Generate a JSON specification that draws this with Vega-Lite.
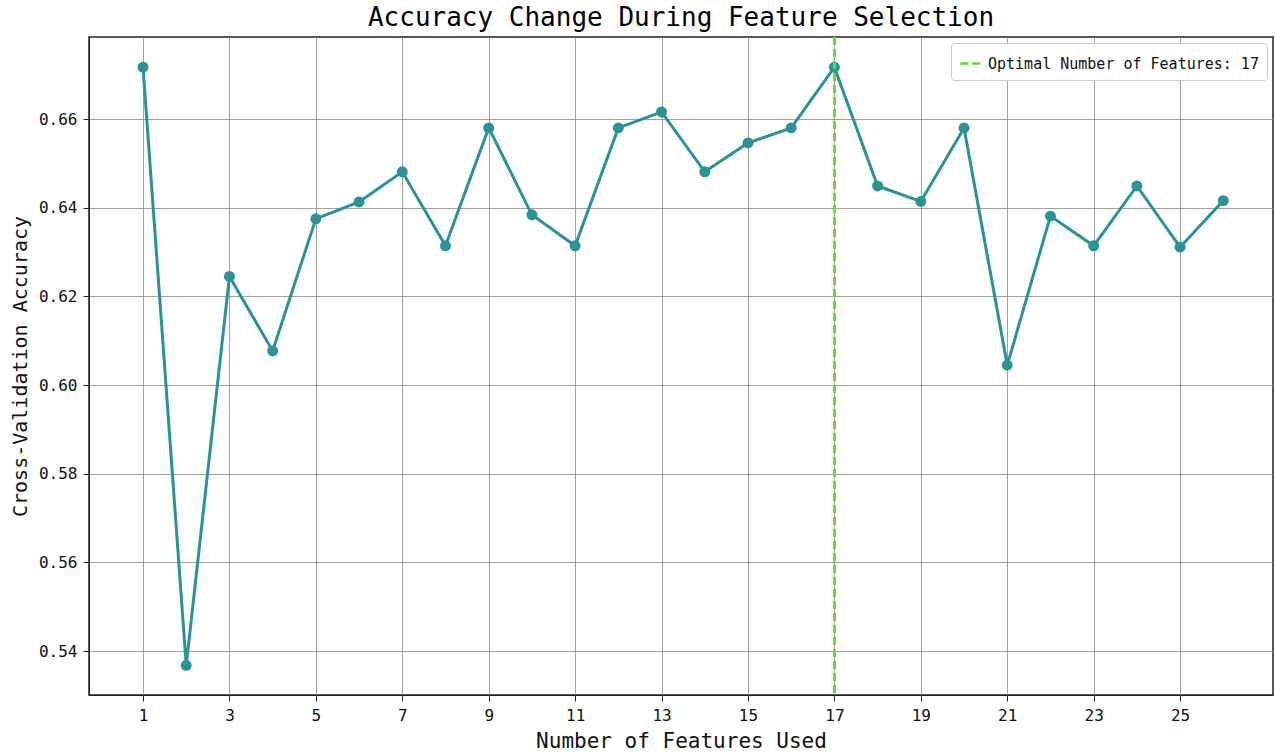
{
  "$schema": "https://vega.github.io/schema/vega-lite/v6.json",
  "width": 1184,
  "height": 658,
  "autosize": {"type": "none"},
  "padding": {"left": 89, "top": 37, "right": 2, "bottom": 59},
  "background": "white",
  "title": {"text": "Accuracy Change During Feature Selection", "font": "DejaVu Sans Mono", "fontSize": 26, "fontWeight": "normal", "color": "#000000", "offset": 5, "anchor": "middle"},
  "config": {
    "view": {"stroke": "#222222", "strokeWidth": 1.5},
    "axis": {"labelFont": "DejaVu Sans Mono", "titleFont": "DejaVu Sans Mono", "labelColor": "#111", "titleColor": "#111", "titleFontWeight": "normal", "domainColor": "#222", "tickColor": "#222", "gridColor": "#8a8a80", "gridOpacity": 0.8, "gridWidth": 1}
  },
  "data": {"values": [
    {"n": 1, "acc": 0.6717}, {"n": 2, "acc": 0.5368}, {"n": 3, "acc": 0.6245}, {"n": 4, "acc": 0.6077},
    {"n": 5, "acc": 0.6375}, {"n": 6, "acc": 0.6413}, {"n": 7, "acc": 0.6481}, {"n": 8, "acc": 0.6314},
    {"n": 9, "acc": 0.6580}, {"n": 10, "acc": 0.6384}, {"n": 11, "acc": 0.6314}, {"n": 12, "acc": 0.6580},
    {"n": 13, "acc": 0.6616}, {"n": 14, "acc": 0.6481}, {"n": 15, "acc": 0.6546}, {"n": 16, "acc": 0.6580},
    {"n": 17, "acc": 0.6717}, {"n": 18, "acc": 0.6449}, {"n": 19, "acc": 0.6414}, {"n": 20, "acc": 0.6580},
    {"n": 21, "acc": 0.6045}, {"n": 22, "acc": 0.6381}, {"n": 23, "acc": 0.6314}, {"n": 24, "acc": 0.6449},
    {"n": 25, "acc": 0.6311}, {"n": 26, "acc": 0.6416}
  ]},
  "layer": [
    {
      "mark": {"type": "line", "color": "#2a9393", "strokeWidth": 3},
      "encoding": {
        "x": {"field": "n", "type": "quantitative", "scale": {"domain": [-0.25, 27.15], "nice": false, "zero": false},
              "axis": {"values": [1,3,5,7,9,11,13,15,17,19,21,23,25], "title": "Number of Features Used", "titleFontSize": 21, "labelFontSize": 16, "titlePadding": 7, "labelPadding": 6, "tickSize": 6, "grid": true}},
        "y": {"field": "acc", "type": "quantitative", "scale": {"domain": [0.5301, 0.6785], "nice": false, "zero": false},
              "axis": {"values": [0.54, 0.56, 0.58, 0.60, 0.62, 0.64, 0.66], "format": ".2f", "title": "Cross-Validation Accuracy", "titleFontSize": 20, "labelFontSize": 16, "titlePadding": 8, "labelPadding": 6, "tickSize": 6, "grid": true}}
      }
    },
    {
      "mark": {"type": "point", "filled": true, "color": "#2a9393", "size": 120, "opacity": 1},
      "encoding": {
        "x": {"field": "n", "type": "quantitative"},
        "y": {"field": "acc", "type": "quantitative"}
      }
    },
    {
      "mark": {"type": "rule", "strokeDash": [8, 4], "strokeWidth": 2},
      "encoding": {
        "x": {"datum": 17, "type": "quantitative"},
        "color": {"datum": "Optimal Number of Features: 17", "type": "nominal", "scale": {"range": ["#66dd33"]},
                  "legend": {"title": null, "orient": "top-right", "offset": 6, "labelFont": "DejaVu Sans Mono", "labelFontSize": 15, "labelColor": "#111", "symbolType": "stroke", "symbolDash": [8, 4], "symbolStrokeWidth": 2.5, "symbolSize": 500, "fillColor": "white", "strokeColor": "#cccccc", "padding": 8, "cornerRadius": 3, "labelLimit": 400}}
      }
    }
  ]
}
